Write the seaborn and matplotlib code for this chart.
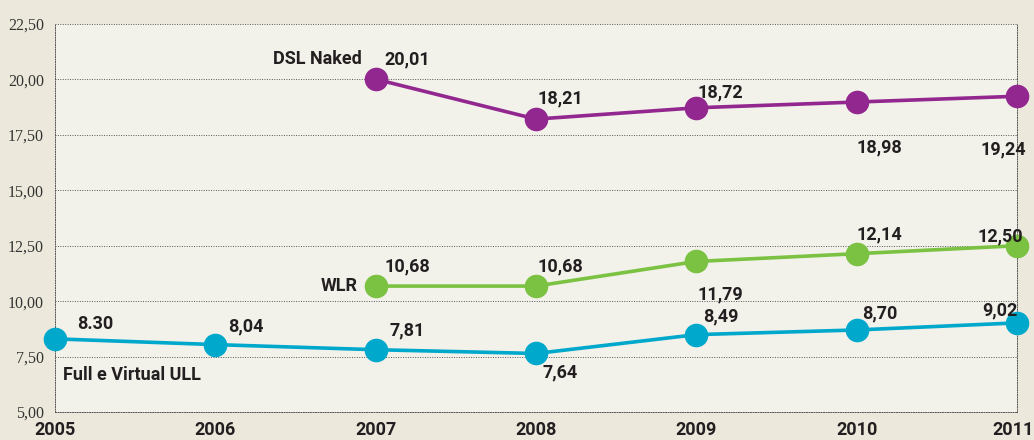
import pandas as pd
import numpy as np
import matplotlib
matplotlib.use("Agg")
import matplotlib.pyplot as plt
import seaborn as sns

years = [2005, 2006, 2007, 2008, 2009, 2010, 2011]
dsl_naked = [None, None, 20.01, 18.21, 18.72, 18.98, 19.24]
wlr = [None, None, 10.68, 10.68, 11.79, 12.14, 12.50]
full_ull = [8.30, 8.04, 7.81, 7.64, 8.49, 8.70, 9.02]

dsl_labels = ["", "", "20,01", "18,21", "18,72", "18,98", "19,24"]
wlr_labels = ["", "", "10,68", "10,68", "11,79", "12,14", "12,50"]
ull_labels = ["8.30", "8,04", "7,81", "7,64", "8,49", "8,70", "9,02"]
yticks = [5.0, 7.5, 10.0, 12.5, 15.0, 17.5, 20.0, 22.5]

series = {"DSL Naked": dsl_naked, "WLR": wlr, "Full e Virtual ULL": full_ull}
colors = {"DSL Naked": "#92278f", "WLR": "#7cc242", "Full e Virtual ULL": "#00a8cc"}

rows = []
for name, vals in series.items():
    for y, v in zip(years, vals):
        if v is not None:
            rows.append({"Anno": y, "Prezzo": v, "Serie": name})
df = pd.DataFrame(rows)

sns.set_style("white")
bold = ["Roboto", "DejaVu Sans"]
fs = 13

fig = plt.figure(figsize=(10.34, 4.4), dpi=100, facecolor="#ece9dc")
ax = fig.add_axes([0.0532, 0.0636, 0.9304, 0.8819])
ax.set_facecolor("#f2f1ea")

sns.lineplot(data=df, x="Anno", y="Prezzo", hue="Serie", palette=colors,
             marker="o", markersize=17, linewidth=2.6, markeredgewidth=0,
             legend=False, ax=ax, zorder=3, clip_on=False)

ax.set_xlim(2005, 2011)
ax.set_ylim(5, 22.5)
ax.set_yticks(yticks)
ax.set_yticklabels([f"{t:.2f}".replace(".", ",") for t in yticks],
                   family="Liberation Serif", fontsize=11.5, color="#333333")
ax.set_xticks(years)
ax.set_xticklabels([])
ax.tick_params(axis="both", length=0, pad=8)
for y in years:
    ax.annotate(str(y), (y, 0), xycoords=ax.get_xaxis_transform(),
                xytext=(-4 if y == 2011 else 0, -18), textcoords="offset pixels",
                ha="center", va="center", family=bold, fontweight="bold",
                fontsize=fs, color="#231f20", annotation_clip=False)
ax.set_xlabel("")
ax.set_ylabel("")
ax.grid(axis="y", linestyle=(0, (1, 1.5)), color="#555555", linewidth=0.7)
ax.spines["top"].set_visible(False)
for s in ["left", "right", "bottom"]:
    ax.spines[s].set_linestyle((0, (1, 1.5)))
    ax.spines[s].set_color("#555555")
    ax.spines[s].set_linewidth(0.7)

# offsets in pixels for value labels
dsl_off = [None, None, (32, 20), (24, 21), (24, 15), (23, -45), (-14, -53)]
wlr_off = [None, None, (32, 20), (24, 20), (24, -33), (23, 19), (-17, 9)]
ull_off = [(40, 15), (31, 18), (32, 19), (24, -19), (24, 18), (23, 17), (-17, 12)]

for vals, labs, offs in [(dsl_naked, dsl_labels, dsl_off),
                         (wlr, wlr_labels, wlr_off),
                         (full_ull, ull_labels, ull_off)]:
    for y, v, lab, off in zip(years, vals, labs, offs):
        if v is None:
            continue
        ax.annotate(lab, (y, v), xytext=off, textcoords="offset pixels",
                    ha="center", va="center", family=bold, fontweight="bold",
                    fontsize=fs, color="#231f20")

ax.annotate("DSL Naked", (2007, 20.01), xytext=(-14, 20), textcoords="offset pixels",
            ha="right", va="center", family=bold, fontweight="bold", fontsize=fs,
            color="#231f20")
ax.annotate("WLR", (2007, 10.68), xytext=(-18, 0), textcoords="offset pixels",
            ha="right", va="center", family=bold, fontweight="bold", fontsize=fs,
            color="#231f20")
ax.annotate("Full e Virtual ULL", (2005, 8.30), xytext=(8, -36), textcoords="offset pixels",
            ha="left", va="center", family=bold, fontweight="bold", fontsize=fs,
            color="#231f20")

fig.savefig("out.png", dpi=100, facecolor=fig.get_facecolor())
